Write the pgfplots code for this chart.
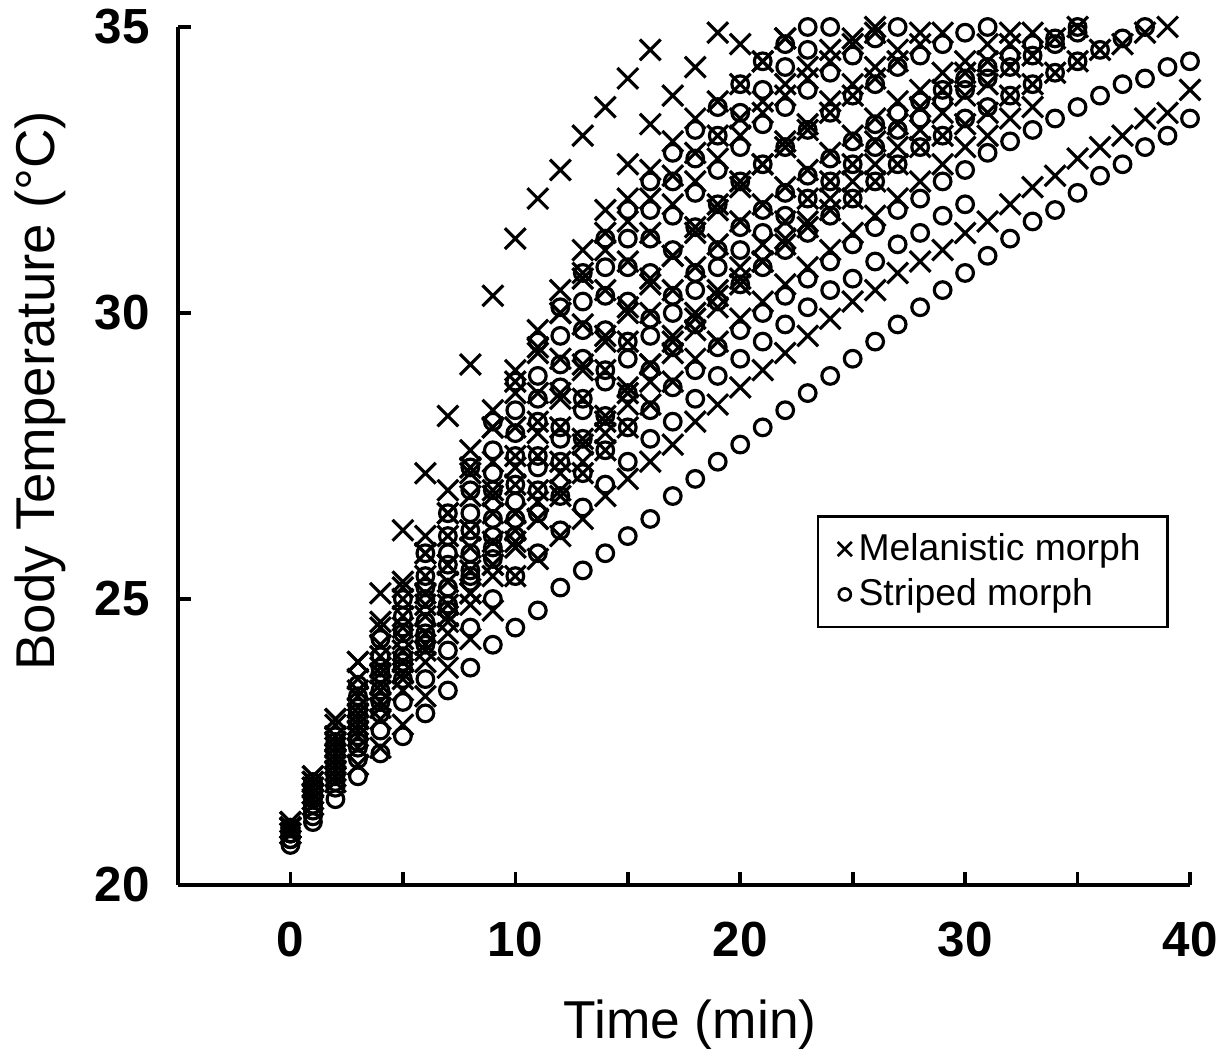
\documentclass[border=0pt]{standalone}
\usepackage{pgfplots}
\pgfplotsset{compat=1.18}
\usepackage{fontspec}
\setmainfont{Liberation Sans}
\begin{document}
\begin{tikzpicture}
\pgfplotsset{
  mx/.style={only marks, mark=x, mark size=4.4pt, line width=0.95pt, black, mark options={line width=0.95pt, black}, forget plot},
  mo/.style={only marks, mark=o, mark size=2.5pt, line width=0.95pt, black, mark options={line width=0.95pt, black}, forget plot},
}
\begin{axis}[
  scale only axis, width=303.6pt, height=257.4pt,
  xmin=-5, xmax=40, ymin=20, ymax=35,
  clip=false,
  axis x line*=bottom, axis y line*=left,
  axis line style={line width=1.2pt},
  tick align=inside, major tick length=4pt,
  tick style={line width=1.1pt, black},
  xtick={0,5,...,40}, xticklabels={0,,10,,20,,30,,40},
  ytick={20,25,30,35}, yticklabels={20,25,30,35},
  ticklabel style={font=\fontsize{14.8}{16}\selectfont\bfseries},
  xticklabel style={anchor=center, yshift=-16.5pt},
  yticklabel style={xshift=-5pt},
  xlabel={Time (min)},
  ylabel={Body Temperature (°C)},
  xlabel style={font=\fontsize{16}{19}\selectfont, at={(axis description cs:0.506,-0.1632)}, anchor=center},
  ylabel style={font=\fontsize{16.4}{19}\selectfont, at={(axis description cs:-0.1364,0.576)}, anchor=center},
  legend style={at={(rel axis cs:0.631,0.431)}, anchor=north west, draw=black, line width=0.7pt,
    font=\fontsize{11.2}{13.5}\selectfont, inner xsep=6pt, inner ysep=3pt},
  legend cell align=left,
]
\coordinate (bl) at (rel axis cs:0,0);
\coordinate (tr) at (rel axis cs:1,1);
\addlegendimage{only marks, mark=x, mark size=3pt, mark options={line width=0.8pt, black}}
\addlegendentry{Melanistic morph}
\addlegendimage{only marks, mark=o, mark size=1.8pt, mark options={line width=0.8pt, black}}
\addlegendentry{Striped morph}

% ---- Melanistic morph ----
\addplot[mx] coordinates {(0,21.0)(1,21.8)(2,22.9)(3,23.9)(4,25.1)(5,26.2)(6,27.2)(7,28.2)(8,29.1)(9,30.3)(10,31.3)(11,32.0)(12,32.5)(13,33.1)(14,33.6)(15,34.1)(16,34.6)};
\addplot[mx] coordinates {(0,21.0)(1,21.9)(2,22.8)(3,23.6)(4,24.5)(5,25.3)(6,26.1)(7,26.9)(8,27.6)(9,28.3)(10,29.0)(11,29.7)(12,30.4)(13,31.1)(14,31.8)(15,32.6)(16,33.3)(17,33.8)(18,34.3)(19,34.9)(20,34.7)(21,34.4)(22,34.8)};
\addplot[mx] coordinates {(0,21.0)(1,21.7)(2,22.6)(3,23.4)(4,24.2)(5,25.0)(6,25.8)(7,26.5)(8,27.3)(9,28.0)(10,28.6)(11,29.3)(12,30.0)(13,30.7)(14,31.4)(15,32.0)(16,32.5)(17,33.0)(18,33.4)(19,33.7)(20,34.0)(21,34.4)(22,34.8)};
\addplot[mx] coordinates {(0,21.1)(1,21.8)(2,22.5)(3,23.3)(4,24.0)(5,24.7)(6,25.4)(7,26.1)(8,26.8)(9,27.4)(10,28.0)(11,28.6)(12,29.2)(13,29.8)(14,30.4)(15,30.9)(16,31.4)(17,31.9)(18,32.3)(19,32.7)(20,33.1)(21,33.5)(22,33.8)(23,34.1)(24,34.4)(25,34.7)(26,34.9)};
\addplot[mx] coordinates {(0,21.0)(1,21.6)(2,22.3)(3,23.0)(4,23.7)(5,24.3)(6,24.9)(7,25.6)(8,26.2)(9,26.9)(10,27.5)(11,28.1)(12,28.6)(13,29.1)(14,29.6)(15,30.1)(16,30.6)(17,31.0)(18,31.5)(19,31.9)(20,32.3)(21,32.6)(22,32.9)(23,33.2)(24,33.5)(25,33.8)(26,34.1)(27,34.4)(28,34.7)(29,34.9)};
\addplot[mx] coordinates {(0,20.9)(1,21.5)(2,22.2)(3,22.9)(4,23.5)(5,24.1)(6,24.7)(7,25.3)(8,25.9)(9,26.5)(10,27.0)(11,27.5)(12,28.0)(13,28.5)(14,29.0)(15,29.5)(16,30.0)(17,30.4)(18,30.8)(19,31.2)(20,31.6)(21,31.9)(22,32.2)(23,32.5)(24,32.8)(25,33.1)(26,33.4)(27,33.7)(28,33.9)(29,34.2)(30,34.4)(31,34.7)(32,34.9)};
\addplot[mx] coordinates {(0,21.0)(1,21.6)(2,22.2)(3,22.8)(4,23.4)(5,23.9)(6,24.4)(7,24.9)(8,25.5)(9,26.0)(10,26.5)(11,26.9)(12,27.4)(13,27.8)(14,28.2)(15,28.7)(16,29.1)(17,29.5)(18,29.9)(19,30.3)(20,30.6)(21,30.9)(22,31.2)(23,31.5)(24,31.8)(25,32.0)(26,32.3)(27,32.6)(28,32.9)(29,33.1)(30,33.3)(31,33.5)(32,33.8)(33,34.0)(34,34.2)(35,34.4)(36,34.6)(37,34.7)(38,34.9)(39,35.0)};
\addplot[mx] coordinates {(0,21.1)(1,21.6)(2,22.1)(3,22.7)(4,23.2)(5,23.7)(6,24.2)(7,24.7)(8,25.1)(9,25.6)(10,26.0)(11,26.4)(12,26.8)(13,27.2)(14,27.6)(15,28.0)(16,28.4)(17,28.8)(18,29.2)(19,29.5)(20,29.9)(21,30.2)(22,30.5)(23,30.8)(24,31.1)(25,31.4)(26,31.7)(27,32.0)(28,32.3)(29,32.6)(30,32.9)(31,33.1)(32,33.4)(33,33.6)};
\addplot[mx] coordinates {(0,21.0)(1,21.4)(2,21.8)(3,22.1)(4,22.4)(5,22.8)(6,23.3)(7,23.8)(8,24.3)(9,24.8)(10,25.4)(11,25.7)(12,26.1)(13,26.4)(14,26.8)(15,27.1)(16,27.4)(17,27.7)(18,28.1)(19,28.4)(20,28.7)(21,29.0)(22,29.3)(23,29.6)(24,29.9)(25,30.2)(26,30.4)(27,30.7)(28,30.9)(29,31.1)(30,31.4)(31,31.6)(32,31.9)(33,32.2)(34,32.4)(35,32.7)(36,32.9)(37,33.1)(38,33.4)(39,33.5)(40,33.9)};
\addplot[mx] coordinates {(0,21.0)(1,21.9)(2,22.9)(3,23.9)(4,24.6)(5,25.2)(6,25.8)(7,26.5)(8,27.2)(9,28.0)(10,28.8)(11,29.4)(12,30.0)(13,30.6)(14,31.1)(15,31.6)(16,32.0)(17,32.4)(18,32.8)(19,33.1)(20,33.4)(21,33.7)(22,34.0)(23,34.3)(24,34.6)(25,34.8)(26,35.0)};
\addplot[mx] coordinates {(0,20.9)(1,21.4)(2,21.9)(3,22.4)(4,22.9)(5,23.4)(6,23.9)(7,24.4)(8,24.9)(9,25.4)(10,25.9)(11,26.4)(12,26.9)(13,27.4)(14,27.9)(15,28.4)(16,28.8)(17,29.3)(18,29.7)(19,30.1)(20,30.5)(21,30.9)(22,31.3)(23,31.6)(24,32.0)(25,32.3)(26,32.6)(27,32.9)(28,33.2)(29,33.5)(30,33.8)(31,34.0)(32,34.3)(33,34.5)(34,34.8)(35,35.0)};
\addplot[mx] coordinates {(0,21.0)(1,21.7)(2,22.4)(3,23.1)(4,23.8)(5,24.5)(6,25.1)(7,25.6)(8,26.2)(9,26.8)(10,27.3)(11,27.9)(12,28.5)(13,29.0)(14,29.5)(15,30.0)(16,30.5)(17,31.0)(18,31.4)(19,31.8)(20,32.2)(21,32.6)(22,33.0)(23,33.3)(24,33.7)(25,34.0)(26,34.3)(27,34.6)(28,34.9)};
\addplot[mx] coordinates {(0,21.0)(1,21.5)(2,22.0)(3,22.6)(4,23.1)(5,23.6)(6,24.1)(7,24.6)(8,25.1)(9,25.6)(10,26.2)(11,26.7)(12,27.2)(13,27.7)(14,28.1)(15,28.6)(16,29.1)(17,29.6)(18,30.0)(19,30.4)(20,30.8)(21,31.2)(22,31.6)(23,32.0)(24,32.3)(25,32.6)(26,33.0)(27,33.3)(28,33.6)(29,33.9)(30,34.2)(31,34.4)(32,34.7)(33,34.9)};

% ---- Striped morph ----
\addplot[mo] coordinates {(0,20.7)(1,21.1)(2,21.5)(3,21.9)(4,22.3)(5,22.6)(6,23.0)(7,23.4)(8,23.8)(9,24.2)(10,24.5)(11,24.8)(12,25.2)(13,25.5)(14,25.8)(15,26.1)(16,26.4)(17,26.8)(18,27.1)(19,27.4)(20,27.7)(21,28.0)(22,28.3)(23,28.6)(24,28.9)(25,29.2)(26,29.5)(27,29.8)(28,30.1)(29,30.4)(30,30.7)(31,31.0)(32,31.3)(33,31.6)(34,31.8)(35,32.1)(36,32.4)(37,32.6)(38,32.9)(39,33.1)(40,33.4)};
\addplot[mo] coordinates {(0,20.9)(1,21.4)(2,21.9)(3,22.5)(4,23.2)(5,23.9)(6,24.4)(7,24.9)(8,25.3)(9,25.7)(10,26.1)(11,26.5)(12,26.8)(13,27.2)(14,27.6)(15,28.0)(16,28.3)(17,28.7)(18,29.0)(19,29.4)(20,29.7)(21,30.0)(22,30.3)(23,30.6)(24,30.9)(25,31.2)(26,31.5)(27,31.8)(28,32.0)(29,32.3)(30,32.5)(31,32.8)(32,33.0)(33,33.2)(34,33.4)(35,33.6)(36,33.8)(37,34.0)(38,34.1)(39,34.3)(40,34.4)};
\addplot[mo] coordinates {(0,20.8)(1,21.3)(2,21.8)(3,22.4)(4,23.0)(5,23.6)(6,24.2)(7,24.8)(8,25.4)(9,25.9)(10,26.4)(11,26.9)(12,27.4)(13,27.8)(14,28.2)(15,28.6)(16,29.0)(17,29.4)(18,29.8)(19,30.2)(20,30.5)(21,30.8)(22,31.1)(23,31.4)(24,31.7)(25,32.0)(26,32.3)(27,32.6)(28,32.9)(29,33.1)(30,33.4)(31,33.6)(32,33.8)(33,34.0)(34,34.2)(35,34.4)(36,34.6)(37,34.8)(38,35.0)};
\addplot[mo] coordinates {(0,20.9)(1,21.5)(2,22.1)(3,22.8)(4,23.4)(5,24.0)(6,24.6)(7,25.2)(8,25.8)(9,26.4)(10,27.0)(11,27.5)(12,28.0)(13,28.5)(14,29.0)(15,29.5)(16,29.9)(17,30.3)(18,30.7)(19,31.1)(20,31.5)(21,31.8)(22,32.1)(23,32.4)(24,32.7)(25,33.0)(26,33.3)(27,33.5)(28,33.7)(29,33.9)(30,34.1)(31,34.3)(32,34.5)(33,34.7)(34,34.8)(35,35.0)};
\addplot[mo] coordinates {(0,21.0)(1,21.6)(2,22.3)(3,23.0)(4,23.7)(5,24.4)(6,25.0)(7,25.6)(8,26.2)(9,26.9)(10,27.5)(11,28.1)(12,28.7)(13,29.2)(14,29.7)(15,30.2)(16,30.7)(17,31.1)(18,31.5)(19,31.9)(20,32.3)(21,32.6)(22,32.9)(23,33.2)(24,33.5)(25,33.8)(26,34.0)(27,34.3)(28,34.5)(29,34.7)(30,34.9)(31,35.0)};
\addplot[mo] coordinates {(0,21.0)(1,21.7)(2,22.5)(3,23.3)(4,24.0)(5,24.7)(6,25.4)(7,26.1)(8,26.9)(9,27.6)(10,28.3)(11,28.9)(12,29.6)(13,30.2)(14,30.8)(15,31.3)(16,31.8)(17,32.3)(18,32.7)(19,33.1)(20,33.5)(21,33.9)(22,34.3)(23,34.6)(24,35.0)};
\addplot[mo] coordinates {(0,20.8)(1,21.2)(2,21.7)(3,22.2)(4,22.7)(5,23.2)(6,23.6)(7,24.1)(8,24.5)(9,25.0)(10,25.4)(11,25.8)(12,26.2)(13,26.6)(14,27.0)(15,27.4)(16,27.8)(17,28.1)(18,28.5)(19,28.9)(20,29.2)(21,29.5)(22,29.8)(23,30.1)(24,30.4)(25,30.6)(26,30.9)(27,31.2)(28,31.4)(29,31.7)(30,31.9)};
\addplot[mo] coordinates {(0,21.0)(1,21.8)(2,22.6)(3,23.5)(4,24.3)(5,25.0)(6,25.8)(7,26.5)(8,27.3)(9,28.1)(10,28.8)(11,29.5)(12,30.1)(13,30.7)(14,31.3)(15,31.8)(16,32.3)(17,32.8)(18,33.2)(19,33.6)(20,34.0)(21,34.4)(22,34.7)(23,35.0)};
\addplot[mo] coordinates {(0,21.0)(1,21.7)(2,22.4)(3,23.1)(4,23.8)(5,24.5)(6,25.2)(7,25.8)(8,26.5)(9,27.2)(10,27.9)(11,28.5)(12,29.1)(13,29.7)(14,30.3)(15,30.8)(16,31.3)(17,31.7)(18,32.1)(19,32.5)(20,32.9)(21,33.3)(22,33.6)(23,33.9)(24,34.2)(25,34.5)(26,34.8)(27,35.0)};
\addplot[mo] coordinates {(0,20.9)(1,21.4)(2,22.0)(3,22.6)(4,23.2)(5,23.8)(6,24.3)(7,24.9)(8,25.5)(9,26.1)(10,26.7)(11,27.3)(12,27.8)(13,28.3)(14,28.8)(15,29.2)(16,29.6)(17,30.0)(18,30.4)(19,30.8)(20,31.1)(21,31.4)(22,31.7)(23,32.0)(24,32.3)(25,32.6)(26,32.9)(27,33.2)(28,33.4)(29,33.7)(30,33.9)(31,34.1)(32,34.3)(33,34.5)(34,34.7)(35,34.9)};
\end{axis}
\pgfresetboundingbox
\path ([shift={(-53.4pt,-51.6pt)}]bl) rectangle ([shift={(10.8pt,8.1pt)}]tr);
\end{tikzpicture}
\end{document}
